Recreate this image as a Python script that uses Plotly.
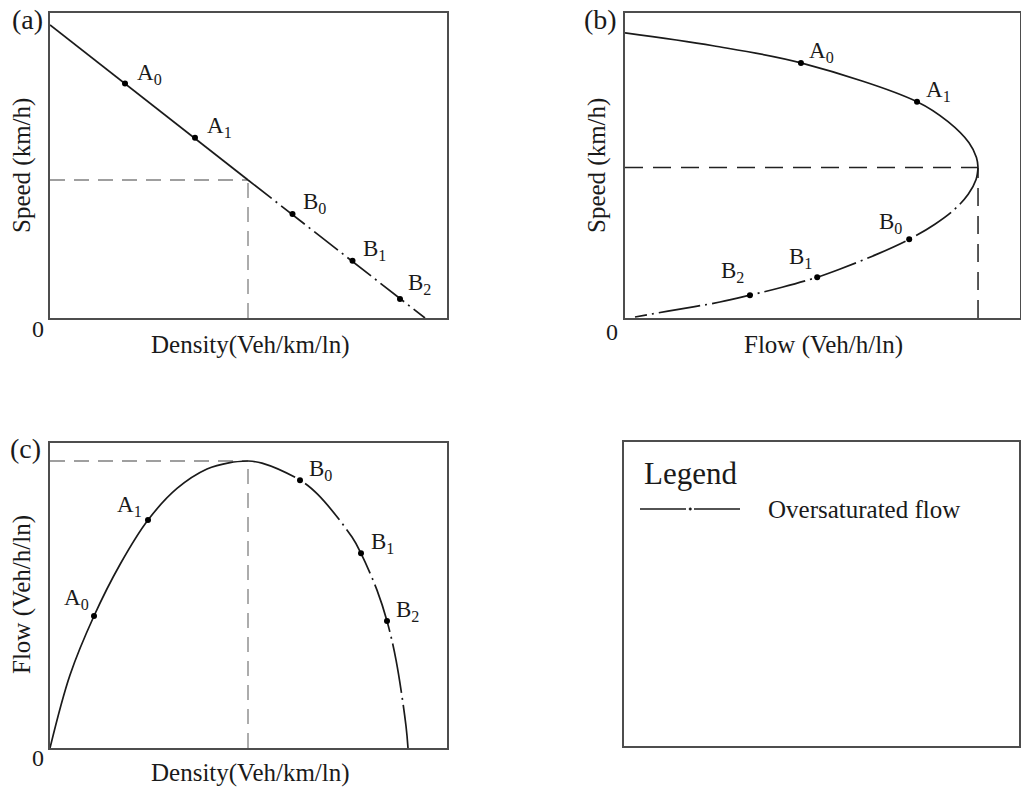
import plotly.graph_objects as go

W, H = 1021, 788

# ---------------- data ----------------
# (a) speed-density
a_density_free = [0, 79.2]
a_speed_free = [100, 47.1]
a_density_cong = [79.2, 150]
a_speed_cong = [47.1, 0]
a_crit_density = 79.2
a_crit_speed = 47.1
a_pt_names = ["A<sub>0</sub>", "A<sub>1</sub>", "B<sub>0</sub>", "B<sub>1</sub>", "B<sub>2</sub>"]
a_pt_density = [30, 58, 97, 121, 140]
a_pt_speed = [80, 61.5, 35.5, 19.5, 6.5]

# (b) speed-flow
b_flow_free = [0, 449, 897, 1489, 1647, 1754, 1792, 1800]
b_speed_free = [100, 95.5, 89.5, 75.9, 68.9, 61.5, 56.3, 52.8]
b_flow_cong = [1800, 1790, 1750, 1680, 1580, 1449, 1286, 1094, 980, 801, 637, 484, 219, 51]
b_speed_cong = [52.8, 48.6, 43.4, 38.1, 32.9, 27.6, 22.4, 17.1, 14.3, 10.8, 8.0, 5.6, 2.4, 0.35]
b_cap_flow = 1800
b_cap_speed = 52.8
b_pt_names = ["A<sub>0</sub>", "A<sub>1</sub>", "B<sub>0</sub>", "B<sub>1</sub>", "B<sub>2</sub>"]
b_pt_flow = [897, 1489, 1449, 980, 637]
b_pt_speed = [89.5, 75.9, 27.6, 14.3, 8.0]

# (c) flow-density
c_density_free = [0, 8, 17.6, 28, 39.2, 50.8, 62.8, 72, 79.2]
c_flow_free = [0, 458, 828, 1151, 1430, 1628, 1750, 1790, 1800]
c_density_cong = [79.2, 84.8, 100, 107.2, 120.8, 124.4, 130.8, 134.8, 138.4, 142.4, 143.2]
c_flow_cong = [1800, 1787, 1680, 1589, 1323, 1221, 990, 796, 553, 138, 0]
c_crit_density = 79.2
c_cap_flow = 1800
c_pt_names = ["A<sub>0</sub>", "A<sub>1</sub>", "B<sub>0</sub>", "B<sub>1</sub>", "B<sub>2</sub>"]
c_pt_density = [17.6, 39.2, 100, 124.4, 134.8]
c_pt_flow = [828, 1430, 1680, 1221, 796]

legend_title = "Legend"
legend_label = "Oversaturated flow"

# ---------------- styling ----------------
FONT = "Liberation Serif, Times New Roman, serif"
INK = "#1a1a1a"
BOX = "#4d4d4d"


def px(x):
    return x / W


def py(y):
    return 1 - y / H


fig = go.Figure()

solid = dict(color=INK, width=1.7)


def add_curve(x, y, ax, dash=None, spline=True):
    line = dict(solid)
    if dash:
        line["dash"] = dash
    if spline:
        line["shape"] = "spline"
        line["smoothing"] = 1.0
    fig.add_trace(go.Scatter(x=x, y=y, mode="lines", line=line,
                             xaxis="x" + ax, yaxis="y" + ax,
                             showlegend=False, hoverinfo="skip"))


def add_ref(x, y, ax, color, dash, width):
    fig.add_trace(go.Scatter(x=x, y=y, mode="lines",
                             line=dict(color=color, dash=dash, width=width),
                             xaxis="x" + ax, yaxis="y" + ax,
                             showlegend=False, hoverinfo="skip"))


def add_points(x, y, ax):
    fig.add_trace(go.Scatter(x=x, y=y, mode="markers",
                             marker=dict(color="black", size=6),
                             xaxis="x" + ax, yaxis="y" + ax,
                             showlegend=False, hoverinfo="skip"))


# (a)
add_ref([0, a_crit_density], [a_crit_speed, a_crit_speed], "", "#808080", "15px,9px", 1.3)
add_ref([a_crit_density, a_crit_density], [0, a_crit_speed], "", "#808080", "15px,9px", 1.3)
add_curve(a_density_free, a_speed_free, "", spline=False)
add_curve(a_density_cong, a_speed_cong, "", dash="30px,5px,2px,5px", spline=False)
add_points(a_pt_density, a_pt_speed, "")

# (b)
add_ref([0, b_cap_flow], [b_cap_speed, b_cap_speed], "2", "#222222", "18px,10px", 1.5)
add_ref([b_cap_flow, b_cap_flow], [0, b_cap_speed], "2", "#222222", "18px,10px", 1.5)
add_curve(b_flow_free, b_speed_free, "2")
add_curve(b_flow_cong, b_speed_cong, "2", dash="42px,5px,2px,5px")
add_points(b_pt_flow, b_pt_speed, "2")

# (c)
add_ref([0, c_crit_density], [c_cap_flow, c_cap_flow], "3", "#808080", "15px,9px", 1.3)
add_ref([c_crit_density, c_crit_density], [0, c_cap_flow], "3", "#808080", "15px,9px", 1.3)
add_curve(c_density_free, c_flow_free, "3")
add_curve(c_density_cong, c_flow_cong, "3", dash="50px,5px,2px,5px")
add_points(c_pt_density, c_pt_flow, "3")

ax_common = dict(showline=True, mirror=True, linecolor=BOX, linewidth=2,
                 showticklabels=False, showgrid=False, zeroline=False,
                 ticks="", fixedrange=True)

top_y = [py(318), py(13)]
bot_y = [py(748), py(443)]
left_x = [px(50), px(447)]
right_x = [px(625), px(1020)]

fig.update_layout(
    width=W, height=H,
    margin=dict(l=0, r=0, t=0, b=0),
    paper_bgcolor="white", plot_bgcolor="white",
    font=dict(family=FONT, color=INK),
    xaxis=dict(domain=left_x, range=[0, 158.8], anchor="y", **ax_common),
    yaxis=dict(domain=top_y, range=[0, 104.1], anchor="x", **ax_common),
    xaxis2=dict(domain=right_x, range=[0, 2014], anchor="y2", **ax_common),
    yaxis2=dict(domain=top_y, range=[0, 107], anchor="x2", **ax_common),
    xaxis3=dict(domain=left_x, range=[0, 158.8], anchor="y3", **ax_common),
    yaxis3=dict(domain=bot_y, range=[0, 1913], anchor="x3", **ax_common),
)

ann = []
LBL = dict(family=FONT, size=23, color=INK)


def point_labels(names, xs, ys, ax, specs):
    for n, x, y, (anchor, dx, dy) in zip(names, xs, ys, specs):
        ann.append(dict(text=n, x=x, y=y, xref="x" + ax, yref="y" + ax,
                        xanchor=anchor, yanchor="middle", xshift=dx, yshift=dy,
                        showarrow=False, font=LBL))


point_labels(a_pt_names, a_pt_density, a_pt_speed, "",
             [("left", 10, 10), ("left", 10, 11), ("left", 8, 11), ("left", 8, 11), ("left", 6, 15)])
point_labels(b_pt_names, b_pt_flow, b_pt_speed, "2",
             [("left", 6, 11), ("left", 7, 11), ("right", -5, 16), ("right", -3, 19), ("right", -4, 23)])
point_labels(c_pt_names, c_pt_density, c_pt_flow, "3",
             [("right", -3, 17), ("right", -4, 14), ("left", 7, 10), ("left", 8, 10), ("left", 7, 10)])


def text(t, x, y, size, angle=0, xanchor="center"):
    ann.append(dict(text=t, x=px(x), y=py(y), xref="paper", yref="paper",
                    xanchor=xanchor, yanchor="middle", textangle=angle,
                    showarrow=False, font=dict(family=FONT, size=size, color=INK)))


# panel tags
text("(a)", 27, 20, 28)
text("(b)", 600, 20, 28)
text("(c)", 25, 449, 28)
# origin zeros
text("0", 38, 329, 24)
text("0", 612, 332, 24)
text("0", 38, 758, 24)
# axis titles
text("Speed (km/h)", 22, 166, 25, angle=-90)
text("Density(Veh/km/ln)", 250, 345, 25)
text("Speed (km/h)", 597, 166, 25, angle=-90)
text("Flow (Veh/h/ln)", 823, 345, 25)
text("Flow (Veh/h/ln)", 22, 595, 25, angle=-90)
text("Density(Veh/km/ln)", 250, 773, 25)
# legend panel
text(legend_title, 642, 473, 31, xanchor="left")
text(legend_label, 766, 509, 25, xanchor="left")

fig.update_layout(annotations=ann)

shapes = [
    dict(type="rect", xref="paper", yref="paper",
         x0=px(623), x1=px(1020), y0=py(747), y1=py(441),
         line=dict(color=BOX, width=2)),
    dict(type="line", xref="paper", yref="paper",
         x0=px(640), x1=px(686), y0=py(509), y1=py(509),
         line=dict(color=INK, width=1.7)),
    dict(type="line", xref="paper", yref="paper",
         x0=px(694), x1=px(740), y0=py(509), y1=py(509),
         line=dict(color=INK, width=1.7)),
    dict(type="circle", xref="paper", yref="paper",
         x0=px(689), x1=px(691.5), y0=py(510.2), y1=py(507.8),
         fillcolor=INK, line=dict(color=INK, width=0.5)),
]
fig.update_layout(shapes=shapes)

fig.write_html("out.html",
               config={"displayModeBar": False, "staticPlot": False},
               post_script="document.body.style.margin='0';document.body.style.overflow='hidden';")
